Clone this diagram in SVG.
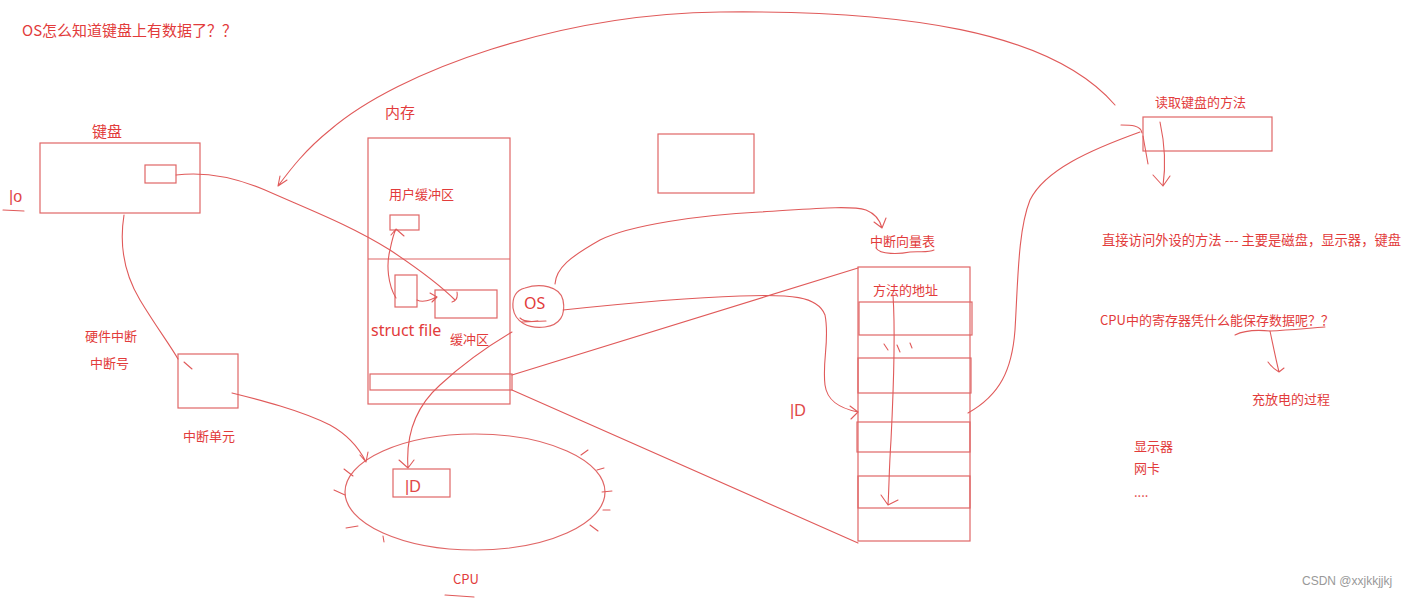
<svg xmlns="http://www.w3.org/2000/svg" width="1422" height="598" viewBox="0 0 1422 598">
<defs>
<style>
.t{font-family:"Noto Sans CJK SC","Liberation Sans",sans-serif;fill:#e23b3b;font-size:13px}
.big{font-size:15px}
.box{fill:none;stroke:#e06666;stroke-width:1.2}
.ln{fill:none;stroke:#e05a5a;stroke-width:1.1;stroke-linecap:round;stroke-linejoin:round}
.hand{font-family:"Liberation Sans",sans-serif;fill:#e04848;font-size:16px}
</style>
</defs>
<rect width="1422" height="598" fill="#ffffff"/>

<text class="t big" x="22" y="36">OS怎么知道键盘上有数据了？？</text>

<g id="keyboard">
<text class="t big" x="92" y="137">键盘</text>
<rect class="box" x="40" y="143" width="160" height="70"/>
<rect class="box" x="145" y="165" width="31" height="18"/>
<text class="hand" x="9" y="202">|o</text>
<path class="ln" d="M3 210 L24 211"/>
</g>

<g id="memory">
<text class="t big" x="385" y="118">内存</text>
<rect class="box" x="368" y="138" width="142" height="266"/>
<line class="box" x1="368" y1="259" x2="510" y2="259"/>
<rect class="box" x="370" y="374" width="142" height="16"/>
<text class="t" x="389" y="199">用户缓冲区</text>
<rect class="box" x="390" y="215" width="29" height="15"/>
<rect class="box" x="395" y="275" width="22" height="32"/>
<rect class="box" x="435" y="290" width="62" height="28"/>
<text class="t" x="371" y="336" style="font-size:16px;font-family:'Noto Sans','Liberation Sans',sans-serif">struct file</text>
<text class="t" x="450" y="344">缓冲区</text>
</g>

<g id="os">
<path class="box" d="M525 288 C540 283 560 286 563 300 C566 315 560 325 545 327 C528 329 515 322 513 308 C512 296 517 290 525 288 Z"/>
<text class="t" x="524" y="309" style="font-size:16px;font-family:'Noto Sans','Liberation Sans',sans-serif">OS</text>
<path class="ln" d="M520 318 C524 322 530 322 538 321 M522 322 L546 321"/>
</g>

<g id="emptybox">
<rect class="box" x="658" y="134" width="96" height="59"/>
</g>

<g id="vectortable">
<text class="t" x="870" y="246">中断向量表</text>
<path class="ln" d="M876 248 C880 255 900 254 910 252 C918 251 928 253 934 250"/>
<rect class="box" x="858" y="267" width="112" height="274"/>
<text class="t" x="873" y="295">方法的地址</text>
<rect class="box" x="859" y="302" width="113" height="33"/>
<rect class="box" x="858" y="358" width="113" height="35"/>
<rect class="box" x="857" y="422" width="113" height="30"/>
<rect class="box" x="858" y="476" width="112" height="32"/>
</g>

<g id="readmethod">
<text class="t" x="1155" y="107">读取键盘的方法</text>
<rect class="box" x="1143" y="117" width="129" height="34"/>
</g>

<g id="cpu">
<ellipse class="box" cx="475" cy="492" rx="130" ry="58"/>
<rect class="box" x="393" y="469" width="57" height="28"/>
<text class="hand" x="405" y="492">|D</text>
<text class="t" x="453" y="584">CPU</text>
<path class="ln" d="M445 595 L474 597"/>
<path class="ln" d="M344 469 L353 476 M334 490 L345 495 M346 528 L358 526 M383 536 L384 542 M581 455 L588 450 M597 470 L604 468 M602 492 L612 491 M603 510 L610 510 M590 525 L598 531"/>
</g>

<g id="intunit">
<text class="t" x="85" y="341">硬件中断</text>
<text class="t" x="90" y="368">中断号</text>
<rect class="box" x="178" y="354" width="60" height="54"/>
<text class="t" x="183" y="441">中断单元</text>
</g>

<g id="notes">
<text class="t" x="1102" y="245" style="font-size:13.3px">直接访问外设的方法 --- 主要是磁盘，显示器，键盘</text>
<text class="t" x="1100" y="325">CPU中的寄存器凭什么能保存数据呢？？</text>
<text class="t" x="1252" y="404">充放电的过程</text>
<text class="t" x="1134" y="451">显示器</text>
<text class="t" x="1134" y="473">网卡</text>
<text class="t" x="1134" y="497">....</text>
</g>

<g id="connectors">
<path class="ln" d="M176 175 C200 172 230 175 265 190 C310 210 350 225 390 250 C420 270 440 285 455 300 M452 302 C456 301 458 298 457 292"/>
<path class="ln" d="M1115 105 C1050 30 900 10 720 12 C560 14 400 70 330 130 C305 150 290 170 278 186 M278 186 L280 176 M278 186 L287 180"/>
<path class="ln" d="M124 215 C120 240 122 270 140 300 C155 325 170 345 178 359"/>
<path class="ln" d="M184 362 L192 369"/>
<path class="ln" d="M232 393 C260 400 300 410 330 425 C350 436 360 450 366 462 M366 462 L360 455 M366 462 L368 452"/>
<path class="ln" d="M408 468 C406 440 412 410 440 385 C465 362 490 345 512 332 M408 468 L399 460 M408 468 L414 460"/>
<path class="ln" d="M555 284 C556 268 570 257 600 240 C630 225 700 215 760 212 C810 209 850 205 866 210 C876 214 880 220 882 228 M882 228 L874 222 M882 228 L886 218"/>
<path class="ln" d="M563 310 C610 305 680 298 740 296 C790 294 818 296 825 315 C830 340 822 360 825 385 C827 400 838 408 858 412 M858 412 L850 406 M858 412 L851 419"/>
<text class="hand" x="790" y="416">|D</text>
<path class="ln" d="M512 375 L858 268"/>
<path class="ln" d="M512 390 L858 543"/>
<path class="ln" d="M968 413 C1000 395 1012 370 1015 330 C1018 280 1018 230 1030 200 C1045 170 1090 150 1140 132 M1142 133 C1141 125 1130 125 1121 125 M1143 136 L1148 164"/>
<path class="ln" d="M1160 122 C1165 145 1166 165 1163 186 M1163 186 L1153 175 M1163 186 L1170 176"/>
<path class="ln" d="M893 295 C896 340 893 400 891 440 C889 470 889 490 888 505 M888 505 L881 495 M888 505 L898 500"/>
<path class="ln" d="M884 344 L888 350 M897 345 L900 352 M910 343 L912 348"/>
<path class="ln" d="M396 298 C388 285 386 265 390 250 C392 240 394 233 396 229 M396 229 L391 235 M396 229 L404 236"/>
<path class="ln" d="M417 300 C423 303 430 300 437 297 M437 297 L430 293 M437 297 L432 302"/>
<path class="ln" d="M1235 335 C1245 330 1260 330 1270 331 C1290 330 1310 328 1325 327"/>
<path class="ln" d="M1270 331 C1273 345 1276 360 1279 372 M1279 372 C1275 370 1271 366 1268 362 M1279 372 L1284 368"/>
</g>

<text x="1302" y="585" style="font-family:'Liberation Sans',sans-serif;font-size:12px;fill:#999999">CSDN @xxjkkjjkj</text>
</svg>
